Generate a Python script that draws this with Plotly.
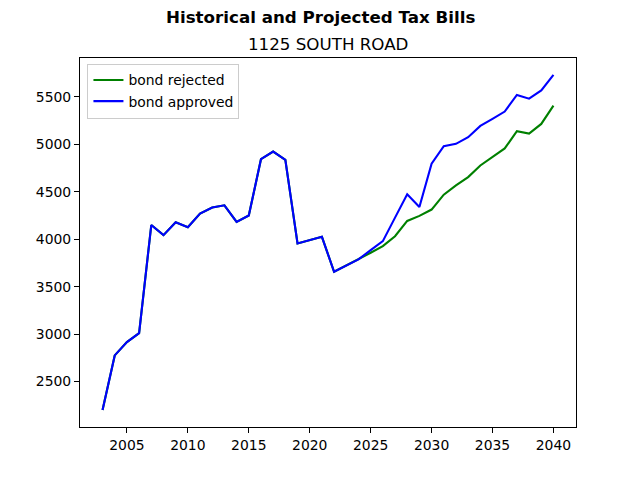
import plotly.graph_objects as go

years = list(range(2003, 2041))

bond_rejected = [2200, 2775, 2915, 3010, 4150, 4043, 4179, 4127, 4270, 4334, 4358, 4182, 4250,
                 4844, 4925, 4838, 3956, 3990, 4025, 3657, 3722, 3787, 3857, 3927, 4032, 4193,
                 4246, 4313, 4470, 4568, 4655, 4778, 4865, 4957, 5139, 5114, 5216, 5409]
bond_approved = [2200, 2775, 2915, 3010, 4150, 4043, 4179, 4127, 4270, 4334, 4358, 4182, 4250,
                 4844, 4925, 4838, 3956, 3990, 4025, 3657, 3722, 3787, 3885, 3980, 4228, 4474,
                 4340, 4796, 4981, 5006, 5076, 5195, 5269, 5346, 5521, 5482, 5569, 5734]

x_ticks = [2005, 2010, 2015, 2020, 2025, 2030, 2035, 2040]
y_ticks = [2500, 3000, 3500, 4000, 4500, 5000, 5500]

font = "DejaVu Sans"

fig = go.Figure()
fig.add_trace(go.Scatter(x=years, y=bond_rejected, mode="lines", name="bond rejected",
                         line=dict(color="#008000", width=2.1)))
fig.add_trace(go.Scatter(x=years, y=bond_approved, mode="lines", name="bond approved",
                         line=dict(color="#0000ff", width=2.1)))

axis_common = dict(showline=True, linecolor="black", linewidth=1.1, mirror=True,
                   ticks="outside", ticklen=5, tickwidth=1.1, tickcolor="black",
                   showgrid=False, zeroline=False,
                   tickfont=dict(family=font, size=13.9, color="black"))

fig.update_layout(
    width=640, height=480,
    margin=dict(l=80, r=64, t=57.6, b=52.8),
    plot_bgcolor="white", paper_bgcolor="white",
    font=dict(family=font, color="black"),
    showlegend=True,
    legend=dict(x=0.015, y=0.985, xanchor="left", yanchor="top",
                bordercolor="#cccccc", borderwidth=1, bgcolor="rgba(255,255,255,0.8)",
                font=dict(family=font, size=13.9, color="black"),
                tracegroupgap=0),
    xaxis=dict(range=[2001.15, 2041.85], tickvals=x_ticks, **axis_common),
    yaxis=dict(range=[2020, 5911], tickvals=y_ticks, **axis_common),
    annotations=[
        dict(text="<b>Historical and Projected Tax Bills</b>", xref="paper", yref="paper",
             x=(320 - 80) / 496, y=(480 - 52.8 - 17) / 369.6, xanchor="center", yanchor="middle",
             showarrow=False, font=dict(family=font, size=16.7, color="black")),
        dict(text="1125 SOUTH ROAD", xref="paper", yref="paper",
             x=0.5, y=(480 - 52.8 - 44) / 369.6, xanchor="center", yanchor="middle",
             showarrow=False, font=dict(family=font, size=16.7, color="black")),
    ],
)

fig.write_html("out.html")
